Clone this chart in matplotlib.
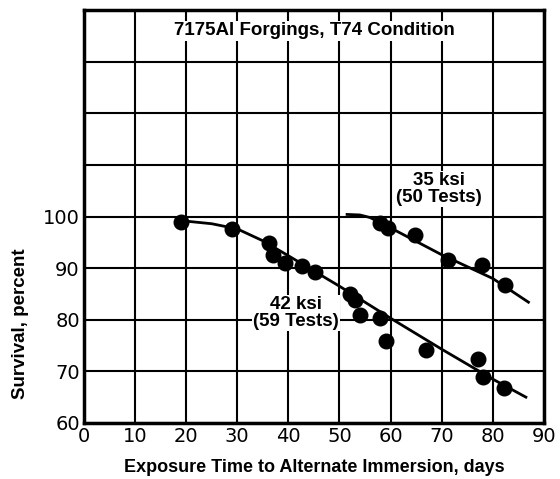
import matplotlib.pyplot as plt

# 42 ksi test points
days_42 = [19, 29, 36.3, 37, 39.4, 42.7, 45.3, 52, 53, 54.1, 58, 59.2, 67, 77.1, 78.2, 82.2]
surv_42 = [99, 97.6, 94.8, 92.5, 90.9, 90.4, 89.3, 85, 83.8, 81, 80.3, 75.9, 74.2, 72.3, 69, 66.8]
# faired curve for 42 ksi
fit_days_42 = [19, 25, 30, 35, 40, 50, 60, 70, 80, 86.5]
fit_surv_42 = [99.2, 98.6, 97.6, 95.3, 92.4, 86.5, 80.3, 74.3, 68.5, 65]

# 35 ksi test points
days_35 = [58, 59.6, 64.7, 71.2, 78, 82.5]
surv_35 = [98.8, 97.8, 96.4, 91.5, 90.6, 86.7]
fit_days_35 = [51.5, 54, 56, 60, 70, 80, 87]
fit_surv_35 = [100.4, 100.3, 99.8, 97.8, 92.6, 88, 83.4]

plt.rcParams['font.family'] = ['Liberation Sans', 'DejaVu Sans']

fig = plt.figure(figsize=(5.6, 4.79), dpi=100)
ax = fig.add_axes([0.15, 0.117, 0.821, 0.862])

ax.plot(fit_days_42, fit_surv_42, color='black', lw=2, zorder=3)
ax.plot(fit_days_35, fit_surv_35, color='black', lw=2, zorder=3)
ax.scatter(days_42, surv_42, s=110, color='black', zorder=4)
ax.scatter(days_35, surv_35, s=110, color='black', zorder=4)

ax.set_xlim(0, 90)
ax.set_ylim(60, 140)
ax.set_xticks(range(0, 91, 10))
ax.set_yticks(range(60, 141, 10))
ax.set_yticklabels(['60', '70', '80', '90', '100', '', '', '', ''])
ax.tick_params(length=0, labelsize=14, pad=3)
for lab in ax.get_xticklabels() + ax.get_yticklabels():
    lab.set_family('DejaVu Sans')
ax.grid(True, color='black', lw=1.5)
ax.set_axisbelow(True)
for sp in ax.spines.values():
    sp.set_linewidth(2.5)

box = dict(facecolor='white', edgecolor='none', pad=1)
ax.text(45, 136.0, '7175Al Forgings, T74 Condition', ha='center', va='center',
        fontsize=13.5, fontweight='bold', bbox=box, zorder=5)
ax.text(69.4, 105.3, '35 ksi\n(50 Tests)', ha='center', va='center',
        fontsize=13.5, fontweight='bold', linespacing=1.0, bbox=box, zorder=5)
ax.text(41.5, 81.3, '42 ksi\n(59 Tests)', ha='center', va='center',
        fontsize=13.5, fontweight='bold', linespacing=1.0, bbox=box, zorder=5)

ax.set_xlabel('Exposure Time to Alternate Immersion, days', fontsize=13,
              fontweight='bold', labelpad=9)
ax.set_ylabel('Survival, percent', fontsize=13.5, fontweight='bold')
ax.yaxis.set_label_coords(-0.12, 0.241)

fig.savefig('out.png', dpi=100)
